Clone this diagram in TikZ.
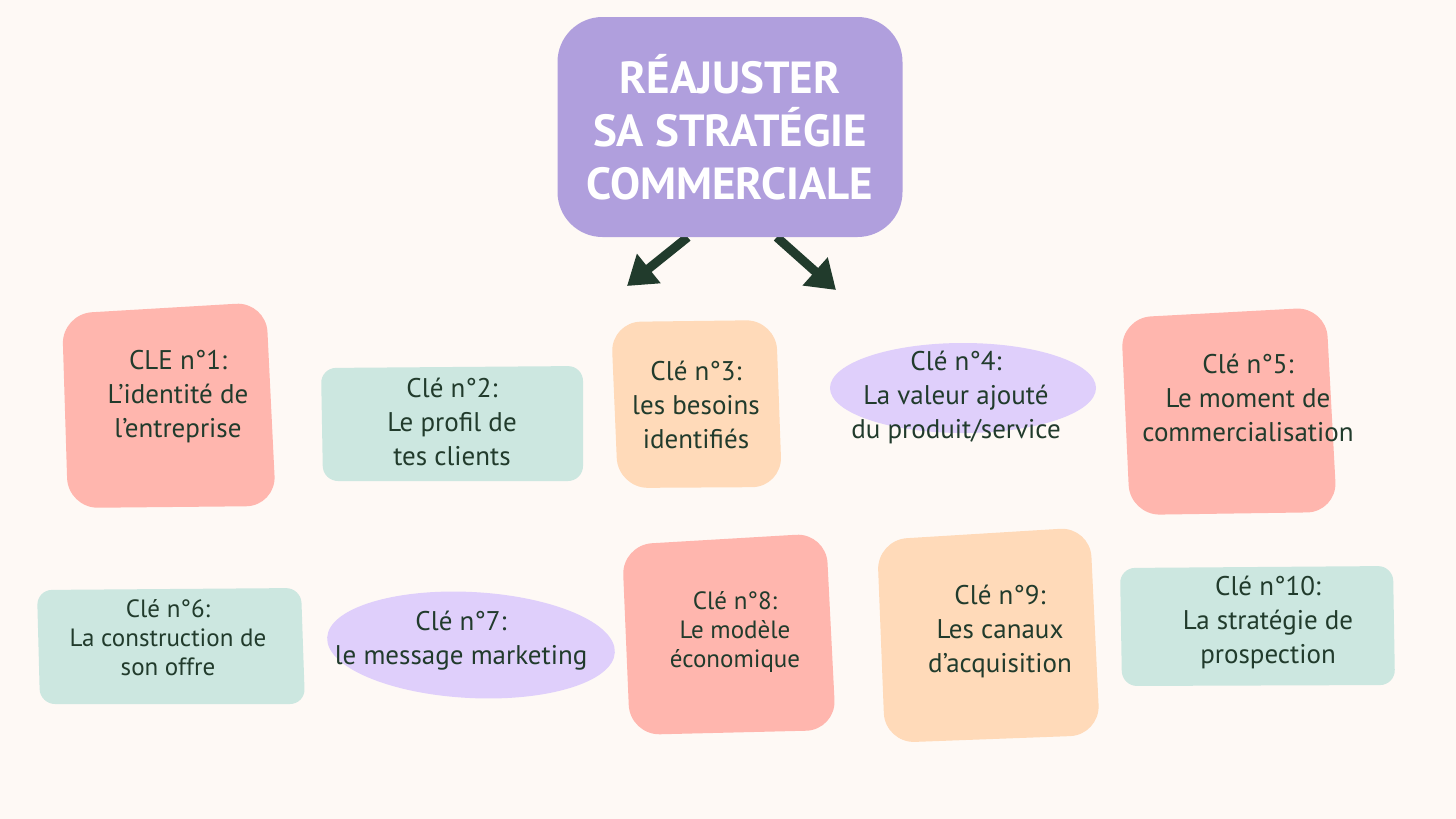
\documentclass[tikz,border=0pt]{standalone}
\usepackage{fontspec}
\setmainfont{PT Sans}
\usetikzlibrary{arrows.meta}
\definecolor{bg}{HTML}{FEF9F5}
\definecolor{ink}{HTML}{213B2C}
\definecolor{headfill}{HTML}{B09FDD}
\definecolor{rose}{HTML}{FFB6AE}
\definecolor{mint}{HTML}{CCE7E0}
\definecolor{peach}{HTML}{FFDAB9}
\definecolor{lilac}{HTML}{DFCFFB}
\pgfdeclarelayer{edgelayer}
\pgfdeclarelayer{nodelayer}
\pgfsetlayers{edgelayer,nodelayer,main}
\tikzstyle{edge}=[draw=ink, line width=9pt, -{Triangle[length=28pt,width=36pt]}]
\tikzstyle{blob}=[rounded corners=30pt]
\tikzstyle{flatblob}=[rounded corners=15pt]
\tikzstyle{headbox}=[fill=headfill, rounded corners=45pt, minimum width=345pt, minimum height=220pt, text=white, align=center, font=\fontsize{45}{53}\selectfont\bfseries]
\tikzstyle{keytext}=[text=ink, align=center, font=\fontsize{27}{34}\selectfont]
\tikzstyle{smalltext}=[text=ink, align=center, font=\fontsize{25}{29}\selectfont]

\begin{document}
\begin{tikzpicture}[x=1pt, y=-1pt]
				\begin{pgfonlayer}{nodelayer}
					\node [style=headbox] (title) at (730, 127) {RÉAJUSTER\\SA STRATÉGIE\\COMMERCIALE};
					\node [style=keytext] (k1) at (178, 397) {CLE n°1:\\L’identité de\\l’entreprise};
					\node [style=keytext] (k2) at (452, 422) {Clé n°2:\\Le profil de\\tes clients};
					\node [style=keytext] (k3) at (696, 405) {Clé n°3:\\les besoins\\identifiés};
					\node [style=keytext] (k4) at (956, 397) {Clé n°4:\\La valeur ajouté\\du produit/service};
					\node [style=keytext] (k5) at (1248, 398) {Clé n°5:\\Le moment de\\commercialisation};
					\node [style=smalltext] (k6) at (168, 638) {Clé n°6:\\La construction de\\son offre};
					\node [style=keytext] (k7) at (461, 641) {Clé n°7:\\le message marketing};
					\node [style=smalltext] (k8) at (735, 632) {Clé n°8:\\Le modèle\\économique};
					\node [style=keytext] (k9) at (1000, 631) {Clé n°9:\\Les canaux\\d’acquisition};
					\node [style=keytext] (k10) at (1268, 622) {Clé n°10:\\La stratégie de\\prospection};
				\end{pgfonlayer}
				\begin{pgfonlayer}{edgelayer}
					\fill [bg] (0, 0) rectangle (1456, 819);
					\fill [rose, blob] (62, 314) -- (266, 302) -- (276, 506) -- (68, 508) -- cycle;
					\fill [mint, flatblob] (321, 368) -- (583, 366) -- (583, 481) -- (323, 481) -- cycle;
					\fill [peach, blob] (611, 322) -- (776, 320) -- (782, 487) -- (618, 488) -- cycle;
					\fill [lilac] (963, 388) ellipse [x radius=133, y radius=45];
					\fill [rose, blob] (1121, 318) -- (1326, 307) -- (1337, 512) -- (1130, 515) -- cycle;
					\fill [mint, flatblob] (37, 590) -- (301, 588) -- (305, 704) -- (40, 704) -- cycle;
					\fill [lilac, rotate around={-3:(471, 645)}] (471, 645) ellipse [x radius=144, y radius=53];
					\fill [rose, blob] (622, 545) -- (826, 533) -- (836, 730) -- (630, 735) -- cycle;
					\fill [peach, blob] (877, 540) -- (1090, 527) -- (1100, 735) -- (885, 743) -- cycle;
					\fill [mint, flatblob] (1120, 568) -- (1393, 566) -- (1395, 685) -- (1122, 686) -- cycle;
					\coordinate (tipl) at (627, 286);
					\coordinate (tipr) at (836, 290);
					\draw [style=edge] (title.249) to (tipl);
					\draw [style=edge] (title.293) to (tipr);
				\end{pgfonlayer}
			\end{tikzpicture}
\end{document}
